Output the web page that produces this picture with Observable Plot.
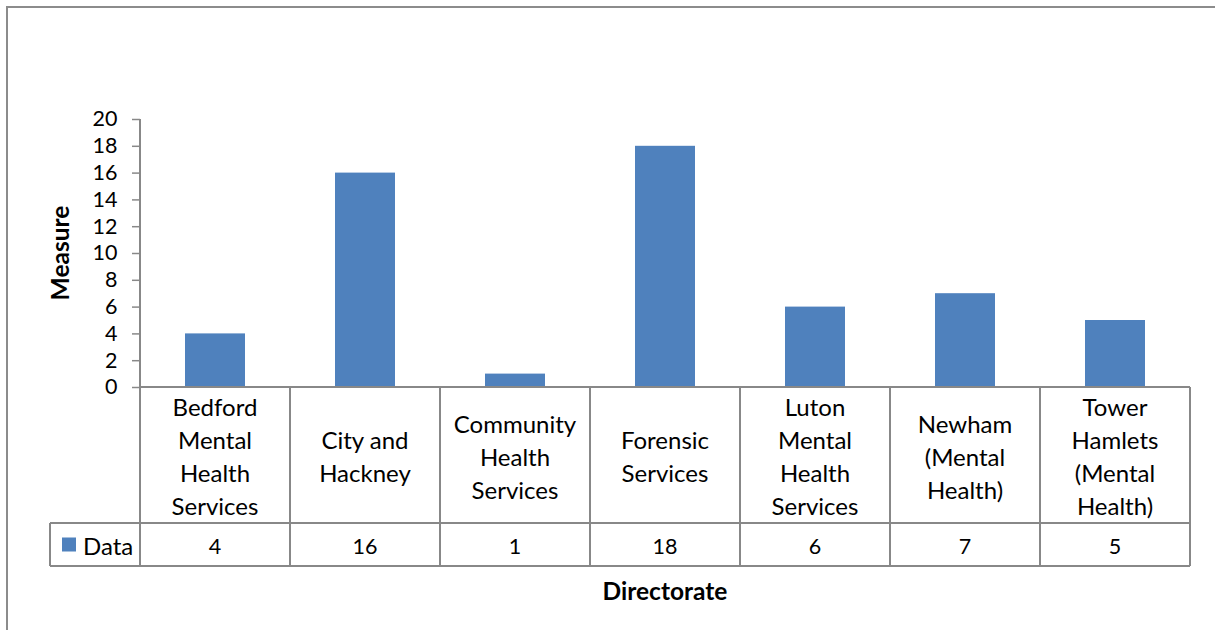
<!DOCTYPE html>
<html>
<head>
<meta charset="utf-8">
<script src="https://cdn.jsdelivr.net/npm/d3@7"></script>
<script src="https://cdn.jsdelivr.net/npm/@observablehq/plot@0.6"></script>
<style>
  html, body { margin: 0; padding: 0; background: #fff; }
  #wrap { position: relative; width: 1215px; height: 630px; overflow: hidden; }
  #frame { position: absolute; left: 6px; top: 6px; width: 1220px; height: 640px;
           border-left: 2px solid #8c8c8c; border-top: 2px solid #8c8c8c; box-sizing: border-box; }
  #chart { position: absolute; left: 0; top: 0; }
  svg text { font-family: Lato, Carlito, Calibri, "Open Sans", sans-serif; }
</style>
</head>
<body>
<div id="wrap"><div id="frame"></div><div id="chart"></div></div>
<script>
const categories = [
  "Bedford Mental Health Services",
  "City and Hackney",
  "Community Health Services",
  "Forensic Services",
  "Luton Mental Health Services",
  "Newham (Mental Health)",
  "Tower Hamlets (Mental Health)"
];
const categoryLabels = [
  ["Bedford", "Mental", "Health", "Services"],
  ["City and", "Hackney"],
  ["Community", "Health", "Services"],
  ["Forensic", "Services"],
  ["Luton", "Mental", "Health", "Services"],
  ["Newham", "(Mental", "Health)"],
  ["Tower", "Hamlets", "(Mental", "Health)"]
];
const values = [4, 16, 1, 18, 6, 7, 5];
const yTicks = [0, 2, 4, 6, 8, 10, 12, 14, 16, 18, 20];
const seriesName = "Data";
const xTitle = "Directorate";
const yTitle = "Measure";

const data = categories.map((c, i) => ({cat: c, value: values[i], lines: categoryLabels[i]}));

const barColor = "#4F81BD";
const gridColor = "#888888";
const row1H = 136, row2H = 43;
const wordSize = 24, digitSize = 21.5, titleSize = 24.5;

function table(index, scales, vals, dim) {
  const x = scales.x;
  const step = x(categories[1]) - x(categories[0]);
  const x0 = dim.marginLeft, x1 = dim.width - dim.marginRight;
  const yTop = dim.marginTop;
  const yAxis = dim.height - dim.marginBottom;
  const yR1 = yAxis + row1H, yR2 = yR1 + row2H;
  const legendLeft = 50;
  const g = d3.create("svg:g").attr("text-anchor", "start");
  const line = (xa, ya, xb, yb) => g.append("line")
    .attr("x1", xa).attr("y1", ya).attr("x2", xb).attr("y2", yb)
    .attr("stroke", gridColor).attr("stroke-width", 2).attr("shape-rendering", "crispEdges");
  line(x0, yTop, x0, yR2);
  line(x0, yAxis, x1, yAxis);
  line(legendLeft, yR1, x1, yR1);
  line(legendLeft, yR2, x1, yR2);
  line(legendLeft, yR1, legendLeft, yR2);
  categories.forEach(c => {
    const xs = x(c) + step;
    line(xs, yAxis, xs, yR2);
  });
  const lh = 33;
  data.forEach(d => {
    const cx = x(d.cat) + step / 2;
    const n = d.lines.length;
    const cy = (yAxis + yR1) / 2 + 1;
    d.lines.forEach((t, i) => {
      g.append("text").attr("x", cx).attr("y", cy + (i - (n - 1) / 2) * lh)
        .attr("text-anchor", "middle").attr("dominant-baseline", "central")
        .attr("font-size", wordSize).attr("fill", "#000").text(t);
    });
    g.append("text").attr("x", cx).attr("y", (yR1 + yR2) / 2 + 1)
      .attr("text-anchor", "middle").attr("dominant-baseline", "central")
      .attr("font-size", digitSize).attr("fill", "#000").text(d.value);
  });
  g.append("rect").attr("x", 62).attr("y", (yR1 + yR2) / 2 - 7).attr("width", 14).attr("height", 14).attr("fill", barColor);
  g.append("text").attr("x", 83).attr("y", (yR1 + yR2) / 2 + 1).attr("text-anchor", "start")
    .attr("dominant-baseline", "central")
    .attr("font-size", wordSize).attr("fill", "#000").text(seriesName);
  g.append("text").attr("x", (x0 + x1) / 2).attr("y", yR2 + 24).attr("text-anchor", "middle")
    .attr("dominant-baseline", "central").attr("font-size", titleSize).attr("font-weight", "bold").attr("fill", "#000").text(xTitle);
  g.append("text").attr("transform", `translate(59,${(yTop + yAxis) / 2}) rotate(-90)`)
    .attr("text-anchor", "middle").attr("dominant-baseline", "central")
    .attr("font-size", titleSize).attr("font-weight", "bold").attr("fill", "#000").text(yTitle);
  return g.node();
}

const chart = Plot.plot({
  width: 1215,
  height: 630,
  marginLeft: 140,
  marginRight: 25,
  marginTop: 119,
  marginBottom: 243,
  style: {fontFamily: "Lato, Carlito, Calibri, sans-serif", color: "#000", background: "transparent"},
  x: {domain: categories, padding: 0, axis: null},
  y: {domain: [0, 20], axis: null},
  marks: [
    Plot.barY(data, {x: "cat", y: "value", fill: barColor, insetLeft: 45, insetRight: 45}),
    Plot.axisY({ticks: yTicks, tickSize: 8, tickPadding: 15, fontSize: digitSize, label: null, stroke: gridColor, strokeWidth: 1.5, fill: "#000", tickFormat: d => d}),
    table
  ]
});
document.getElementById("chart").appendChild(chart);
</script>
</body>
</html>
